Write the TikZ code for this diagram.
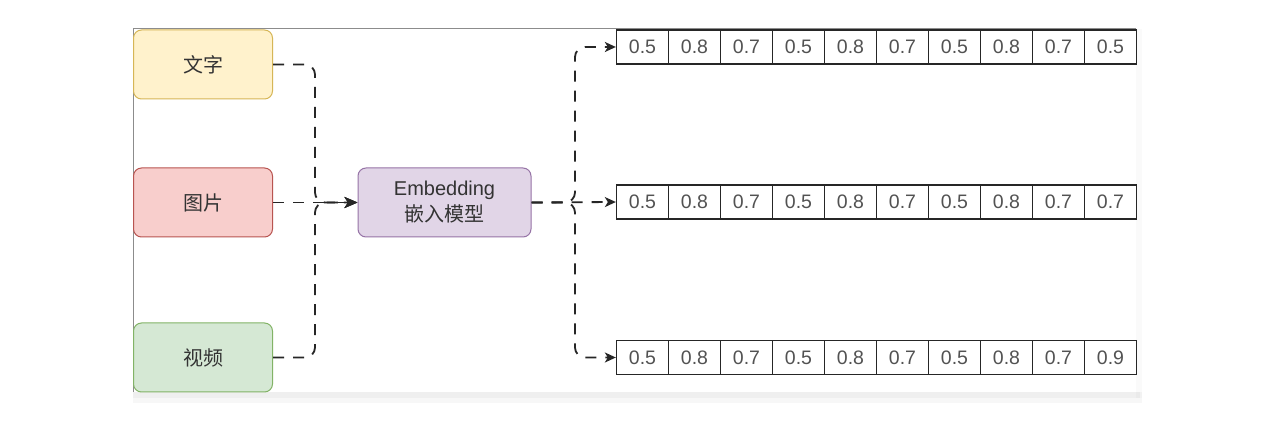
\documentclass[tikz,border=0pt]{standalone}
\usepackage{fontspec}
\setmainfont{Liberation Sans}
\newfontfamily\cjk{Noto Sans CJK SC}
\usetikzlibrary{arrows.meta}
\definecolor{txt}{HTML}{333333}
\definecolor{lnk}{HTML}{262626}
\definecolor{ylwf}{HTML}{FFF2CC}\definecolor{ylwd}{HTML}{D6B656}
\definecolor{redf}{HTML}{F8CECC}\definecolor{redd}{HTML}{B85450}
\definecolor{grnf}{HTML}{D5E8D4}\definecolor{grnd}{HTML}{82B366}
\definecolor{purf}{HTML}{E1D5E7}\definecolor{purd}{HTML}{9673A6}
\tikzset{
  srcbox/.style={rounded corners=8pt, line width=1pt, minimum width=139pt, minimum height=69pt, inner sep=0pt, font=\cjk\fontsize{20}{24}\selectfont, text=txt},
  cell/.style={draw=black!85, line width=1.3pt, minimum width=52pt, minimum height=34pt, inner sep=0pt, font=\fontsize{19.5}{22}\selectfont, text=black!68},
  link/.style={draw=lnk, line width=1.8pt, dash pattern=on 11pt off 9pt, rounded corners=10pt},
  arr/.style={-{Stealth[length=13pt,width=11pt,inset=3.5pt]}},
  arrs/.style={-{Stealth[length=11pt,width=10pt,inset=3pt]}}
}
\begin{document}
\begin{tikzpicture}[x=1pt,y=-1pt]
\useasboundingbox (0,0) rectangle (1280,427);
\fill[white] (0,0) rectangle (1280,427);
% panel shadow
\fill[black,opacity=0.03] (133,392) rectangle (1142,403);
\fill[black,opacity=0.03] (133,392) rectangle (1140,398);
\fill[black,opacity=0.02] (1136,29) rectangle (1142,398);
\fill[white] (133,29) rectangle (1136,392);
\draw[black!45, line width=1pt] (1136,29) -- (133,29) -- (133,392);
% source boxes
\node[srcbox, fill=ylwf, draw=ylwd] (wz) at (203,64.5) {文字};
\node[srcbox, fill=redf, draw=redd] (tp) at (203,202.5) {图片};
\node[srcbox, fill=grnf, draw=grnd] (sp) at (203,357.5) {视频};
\node[srcbox, fill=purf, draw=purd, minimum width=173pt, align=center, font=\fontsize{20}{26}\selectfont] (emb) at (444.5,202.5) {Embedding\\{\cjk 嵌入模型}};
% vectors
\foreach \r/\y/\last in {1/47/0.5, 2/202/0.7, 3/357.5/0.9}{
  \foreach \v [count=\i] in {0.5,0.8,0.7,0.5,0.8,0.7,0.5,0.8,0.7,\last}{
    \node[cell] (r\r c\i) at ({616.5+26+52*(\i-1)},\y) {\v};
  }
}
% left connectors
\coordinate (jl) at (315,202.5);
\draw[link, arr] (wz.east) -- (315,64.5) -- (jl) -- (emb.west);
\draw[link, arr] (sp.east) -- (315,357.5) -- (jl) -- (emb.west);
\draw[link, arr] (tp.east) -- (emb.west);
% right connectors
\draw[link, arrs] (emb.east) -- (575,202.5) -- (575,47) -- (r1c1.west);
\draw[link, arrs] (emb.east) -- (575,202.5) -- (575,357.5) -- (r3c1.west);
\draw[link, arrs] (emb.east) -- (r2c1.west);
\end{tikzpicture}
\end{document}
